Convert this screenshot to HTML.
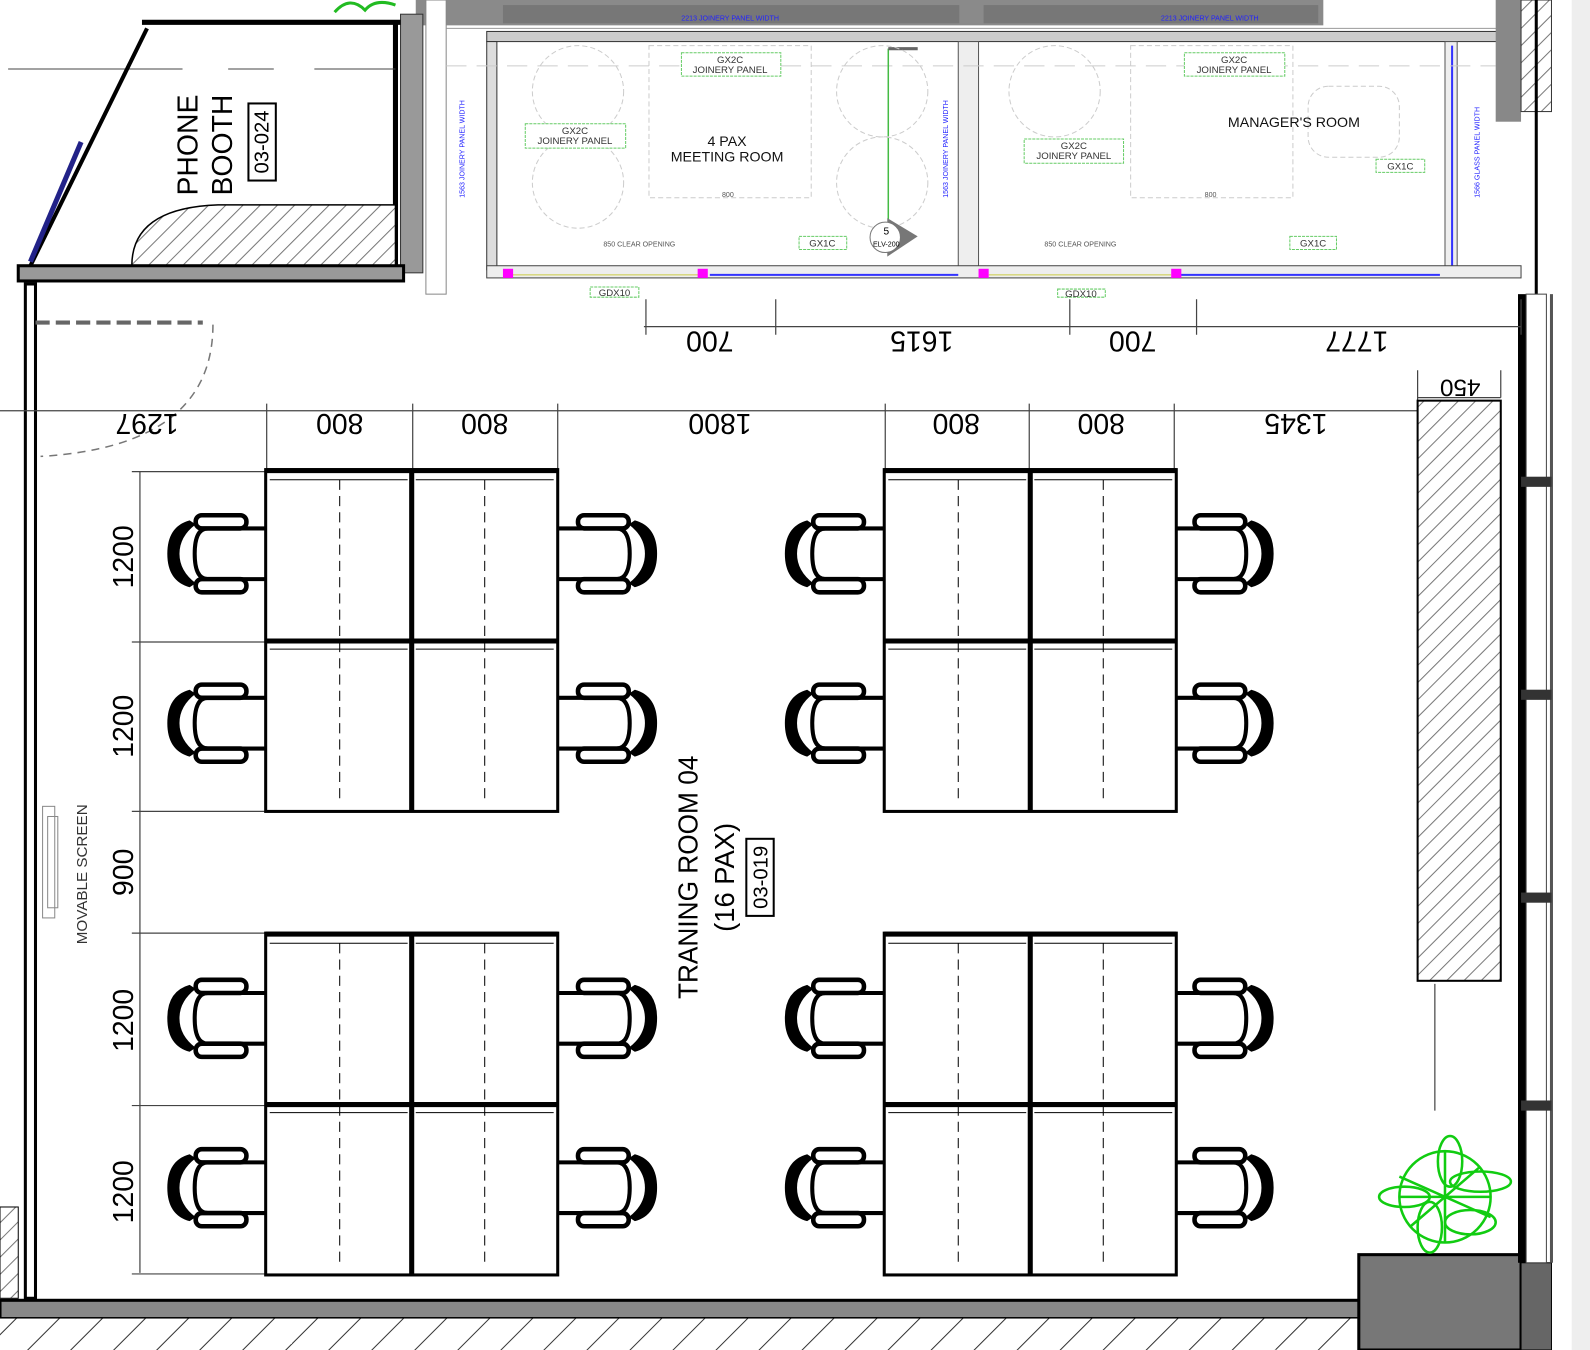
<!DOCTYPE html>
<html><head><meta charset="utf-8"><style>
html,body{margin:0;padding:0;background:#fff;}
svg{display:block;}
text{font-family:"Liberation Sans",sans-serif;}
</style></head><body>
<svg width="1590" height="1350" viewBox="0 0 1568 1331" preserveAspectRatio="none" xmlns="http://www.w3.org/2000/svg">
<defs>
<pattern id="h" width="12" height="12" patternUnits="userSpaceOnUse" patternTransform="rotate(45)">
<rect width="12" height="12" fill="#fff"/><line x1="0" y1="0" x2="0" y2="12" stroke="#777" stroke-width="2"/></pattern>
<pattern id="h2" width="30" height="30" patternUnits="userSpaceOnUse" patternTransform="rotate(45)">
<rect width="30" height="30" fill="#fff"/><line x1="0" y1="0" x2="0" y2="30" stroke="#333" stroke-width="2"/></pattern>
<g id="chair">
<path d="M24 12 Q2 18 2 45 Q2 72 24 78 L30 74 Q14 62 14 45 Q14 28 30 16 Z" fill="#000"/>
<path d="M99 20 H42 Q29 20 29 45 Q29 70 42 70 H99" fill="none" stroke="#000" stroke-width="4"/>
<rect x="30" y="7" width="50" height="13" rx="6" fill="#fff" stroke="#000" stroke-width="4.5"/>
<rect x="30" y="70" width="50" height="13" rx="6" fill="#fff" stroke="#000" stroke-width="4.5"/>
</g>
<g id="tbl">
<rect x="0" y="0" width="288" height="337" fill="#fff" stroke="#000" stroke-width="3"/>
<line x1="0" y1="1" x2="288" y2="1" stroke="#000" stroke-width="5"/>
<line x1="144" y1="0" x2="144" y2="337" stroke="#000" stroke-width="5"/>
<line x1="0" y1="169" x2="288" y2="169" stroke="#000" stroke-width="5"/>
<line x1="73" y1="10" x2="73" y2="330" stroke="#000" stroke-dasharray="10,6"/>
<line x1="216" y1="10" x2="216" y2="330" stroke="#000" stroke-dasharray="10,6"/>
<line x1="4" y1="10" x2="140" y2="10" stroke="#000"/>
<line x1="148" y1="10" x2="284" y2="10" stroke="#000"/>
<line x1="4" y1="177" x2="140" y2="177" stroke="#000"/>
<line x1="148" y1="177" x2="284" y2="177" stroke="#000"/>
</g>
</defs>
<rect width="1568" height="1331" fill="#fff"/>
<rect x="1550" y="0" width="18" height="1331" fill="#eee"/>

<!-- top meeting rooms area -->
<rect x="410" y="0" width="895" height="25" fill="#8a8a8a"/>
<rect x="496" y="5" width="450" height="18" fill="#777"/>
<rect x="970" y="5" width="330" height="18" fill="#777"/>
<text x="720" y="20" font-size="7" fill="#22f" text-anchor="middle">2213 JOINERY PANEL WIDTH</text>
<text x="1193" y="20" font-size="7" fill="#22f" text-anchor="middle">2213 JOINERY PANEL WIDTH</text>
<rect x="395" y="14" width="22" height="255" fill="#999" stroke="#333"/>
<rect x="420" y="0" width="20" height="290" fill="#fff" stroke="#888"/>
<line x1="440" y1="28" x2="1500" y2="28" stroke="#999"/>
<rect x="480" y="31" width="1020" height="10" fill="#ccc" stroke="#333"/>
<rect x="480" y="41" width="10" height="225" fill="#ddd" stroke="#333"/>
<rect x="945" y="41" width="20" height="225" fill="#eee" stroke="#555"/>
<rect x="1425" y="41" width="12" height="225" fill="#eee" stroke="#555"/>
<line x1="1432" y1="45" x2="1432" y2="262" stroke="#33f" stroke-width="2"/>
<rect x="480" y="262" width="1020" height="12" fill="#eee" stroke="#444"/>
<line x1="700" y1="271" x2="945" y2="271" stroke="#33f" stroke-width="2"/>
<line x1="1160" y1="271" x2="1420" y2="271" stroke="#33f" stroke-width="2"/>
<line x1="500" y1="271" x2="690" y2="271" stroke="#cc4" stroke-width="1"/>
<line x1="975" y1="271" x2="1155" y2="271" stroke="#cc4" stroke-width="1"/>
<rect x="496" y="265" width="10" height="9" fill="#f0f"/><rect x="688" y="265" width="10" height="9" fill="#f0f"/>
<rect x="965" y="265" width="10" height="9" fill="#f0f"/><rect x="1155" y="265" width="10" height="9" fill="#f0f"/>
<line x1="440" y1="65" x2="1475" y2="65" stroke="#ccc" stroke-dasharray="20,10"/>
<line x1="876" y1="48" x2="876" y2="225" stroke="#4b4" stroke-width="1.5"/>
<line x1="876" y1="48" x2="905" y2="48" stroke="#666" stroke-width="3"/>
<g fill="none" stroke="#ccc" stroke-dasharray="5,3">
<circle cx="570" cy="90" r="45"/><circle cx="570" cy="180" r="45"/>
<circle cx="870" cy="90" r="45"/><circle cx="870" cy="180" r="45"/>
<circle cx="1040" cy="90" r="45"/>
<rect x="640" y="45" width="160" height="150"/><rect x="1115" y="45" width="160" height="150"/>
<rect x="1290" y="85" width="90" height="70" rx="20"/>
</g>
<g font-size="7" fill="#555">
<text x="595" y="243">850 CLEAR OPENING</text><text x="1030" y="243">850 CLEAR OPENING</text>
<text x="712" y="194">800</text><text x="1188" y="194">800</text>
</g>
<g fill="#fff" stroke="#6c6" stroke-dasharray="3,1">
<rect x="672" y="52" width="98" height="23"/><rect x="518" y="122" width="99" height="24"/>
<rect x="1168" y="52" width="99" height="23"/><rect x="1010" y="137" width="98" height="24"/>
<rect x="788" y="233" width="47" height="13"/><rect x="1272" y="233" width="46" height="13"/>
<rect x="1357" y="157" width="48" height="13"/><rect x="582" y="283" width="48" height="10"/>
<rect x="1043" y="285" width="47" height="8"/>
</g>
<g font-size="9.5" fill="#333" text-anchor="middle">
<text x="720" y="62">GX2C</text><text x="720" y="72">JOINERY PANEL</text>
<text x="567" y="132">GX2C</text><text x="567" y="142">JOINERY PANEL</text>
<text x="1217" y="62">GX2C</text><text x="1217" y="72">JOINERY PANEL</text>
<text x="1059" y="147">GX2C</text><text x="1059" y="157">JOINERY PANEL</text>
<text x="811" y="243">GX1C</text><text x="1295" y="243">GX1C</text><text x="1381" y="167">GX1C</text>
<text x="606" y="292">GDX10</text><text x="1066" y="293">GDX10</text>
</g>
<g font-size="14" fill="#111" text-anchor="middle">
<text x="717" y="144">4 PAX</text><text x="717" y="159">MEETING ROOM</text>
<text x="1276" y="125">MANAGER'S ROOM</text>
</g>
<path d="M875 215 L905 233 L875 253 Z" fill="#777"/><circle cx="873" cy="234" r="15" fill="#fff" stroke="#777"/>
<text x="874" y="231" font-size="10" text-anchor="middle">5</text><text x="874" y="243" font-size="7" text-anchor="middle">ELV-200</text>
<g font-size="7" fill="#22f">
<text transform="translate(458,195) rotate(-90)">1563 JOINERY PANEL WIDTH</text>
<text transform="translate(935,195) rotate(-90)">1563 JOINERY PANEL WIDTH</text>
<text transform="translate(1459,195) rotate(-90)">1566 GLASS PANEL WIDTH</text>
</g>
<rect x="1475" y="0" width="25" height="120" fill="#888"/>
<rect x="1500" y="0" width="30" height="110" fill="url(#h)" stroke="#333"/>
<line x1="1515" y1="0" x2="1515" y2="290" stroke="#000" stroke-width="3"/>

<!-- phone booth -->
<line x1="140" y1="22" x2="395" y2="22" stroke="#000" stroke-width="5"/>
<line x1="390" y1="20" x2="390" y2="265" stroke="#000" stroke-width="5"/>
<line x1="8" y1="68" x2="180" y2="68" stroke="#444"/><line x1="225" y1="68" x2="270" y2="68" stroke="#444"/><line x1="310" y1="68" x2="390" y2="68" stroke="#444"/>
<path d="M130 262 Q130 205 215 202 L390 202 L390 262 Z" fill="url(#h)" stroke="#000" stroke-width="1.5"/>
<line x1="145" y1="28" x2="30" y2="262" stroke="#000" stroke-width="4"/>
<line x1="80" y1="140" x2="30" y2="258" stroke="#228" stroke-width="5"/>
<rect x="18" y="262" width="380" height="15" fill="#999" stroke="#000" stroke-width="3"/>
<g font-size="28" fill="#000" text-anchor="middle">
<text transform="translate(195,143) rotate(-90)">PHONE</text>
<text transform="translate(229,143) rotate(-90)">BOOTH</text>
</g>
<rect x="245" y="102" width="27" height="76" fill="#fff" stroke="#000" stroke-width="2"/>
<text transform="translate(265,140) rotate(-90)" font-size="20" text-anchor="middle">03-024</text>
<rect x="325" y="0" width="65" height="18" fill="#fff"/>
<path d="M330 12 Q345 -5 360 10 Q370 -2 390 5" fill="none" stroke="#2b2" stroke-width="3"/>

<!-- left wall -->
<rect x="25" y="280" width="10" height="1000" fill="#fff" stroke="#000" stroke-width="3"/>
<line x1="35" y1="318" x2="200" y2="318" stroke="#666" stroke-width="4" stroke-dasharray="14,6"/>
<path d="M210 320 Q210 440 40 450" fill="none" stroke="#777" stroke-width="1.5" stroke-dasharray="8,6"/>
<rect x="0" y="1190" width="18" height="90" fill="url(#h)" stroke="#000"/>
<rect x="0" y="1282" width="1345" height="18" fill="#888" stroke="#000" stroke-width="3"/>
<rect x="0" y="1300" width="1345" height="31" fill="url(#h2)"/>
<rect x="1340" y="1237" width="160" height="94" fill="#777" stroke="#000" stroke-width="3"/>
<rect x="1500" y="1245" width="30" height="86" fill="#666" stroke="#000"/>
<rect x="1497" y="290" width="8" height="955" fill="#000"/>
<rect x="1505" y="290" width="20" height="955" fill="#fff" stroke="#444"/>
<line x1="1530" y1="290" x2="1530" y2="1245" stroke="#555" stroke-width="3"/>
<g fill="#333"><rect x="1500" y="470" width="30" height="10"/><rect x="1500" y="680" width="30" height="10"/><rect x="1500" y="880" width="30" height="10"/><rect x="1500" y="1085" width="30" height="10"/></g>

<!-- dimensions -->
<g stroke="#444" stroke-width="1.2" fill="none">
<line x1="635" y1="322" x2="1500" y2="322"/>
<line x1="0" y1="405" x2="1398" y2="405"/>
<line x1="1398" y1="392" x2="1480" y2="392"/>
<line x1="138" y1="465" x2="138" y2="1255"/>
<path d="M637 295V330M765 295V330M1055 295V330M1180 295V330M1500 295V330"/>
<path d="M263 398V465M407 398V465M550 398V465M873 398V465M1015 398V465M1158 398V465"/>
<path d="M130 465H262M130 633H262M130 800H262M130 920H262M130 1090H262M130 1256H262"/>
<path d="M1398 365V405M1480 365V392M1415 970V1095"/>
</g>
<g font-size="28" fill="#000" text-anchor="middle">
<g transform="rotate(180 700 337)"><text x="700" y="347">700</text></g>
<g transform="rotate(180 909 337)"><text x="909" y="347">1615</text></g>
<g transform="rotate(180 1117 337)"><text x="1117" y="347">700</text></g>
<g transform="rotate(180 1338 337)"><text x="1338" y="347">1777</text></g>
<g transform="rotate(180 145 418)"><text x="145" y="428">1297</text></g>
<g transform="rotate(180 335 418)"><text x="335" y="428">800</text></g>
<g transform="rotate(180 478 418)"><text x="478" y="428">800</text></g>
<g transform="rotate(180 710 418)"><text x="710" y="428">1800</text></g>
<g transform="rotate(180 943 418)"><text x="943" y="428">800</text></g>
<g transform="rotate(180 1086 418)"><text x="1086" y="428">800</text></g>
<g transform="rotate(180 1278 418)"><text x="1278" y="428">1345</text></g>
<g transform="rotate(180 1440 383)"><text x="1440" y="392" font-size="24">450</text></g>
<text transform="translate(131,549) rotate(-90)">1200</text>
<text transform="translate(131,716) rotate(-90)">1200</text>
<text transform="translate(131,860) rotate(-90)">900</text>
<text transform="translate(131,1006) rotate(-90)">1200</text>
<text transform="translate(131,1175) rotate(-90)">1200</text>
</g>

<rect x="1398" y="395" width="82" height="572" fill="url(#h)" stroke="#000" stroke-width="2"/>

<use href="#tbl" x="262" y="463"/><use href="#tbl" x="872" y="463"/>
<use href="#tbl" x="262" y="920"/><use href="#tbl" x="872" y="920"/>
<g>
<use href="#chair" x="163" y="501"/><use href="#chair" x="163" y="668"/><use href="#chair" x="163" y="959"/><use href="#chair" x="163" y="1126"/>
<use href="#chair" x="772" y="501"/><use href="#chair" x="772" y="668"/><use href="#chair" x="772" y="959"/><use href="#chair" x="772" y="1126"/>
<g transform="translate(1200 0) scale(-1 1)">
<use href="#chair" x="550" y="501"/><use href="#chair" x="550" y="668"/><use href="#chair" x="550" y="959"/><use href="#chair" x="550" y="1126"/>
</g>
<g transform="translate(2418 0) scale(-1 1)">
<use href="#chair" x="1160" y="501"/><use href="#chair" x="1160" y="668"/><use href="#chair" x="1160" y="959"/><use href="#chair" x="1160" y="1126"/>
</g>
</g>

<g font-size="27" fill="#000" text-anchor="middle">
<text transform="translate(688,865) rotate(-90)" textLength="240" lengthAdjust="spacingAndGlyphs">TRANING ROOM 04</text>
<text transform="translate(724,865) rotate(-90)">(16 PAX)</text>
</g>
<rect x="736" y="827" width="27" height="76" fill="#fff" stroke="#000" stroke-width="2"/>
<text transform="translate(757,865) rotate(-90)" font-size="20" text-anchor="middle">03-019</text>
<rect x="42" y="795" width="12" height="110" fill="none" stroke="#888"/>
<rect x="47" y="805" width="10" height="90" fill="none" stroke="#888"/>
<text transform="translate(86,862) rotate(-90)" font-size="15" fill="#333" text-anchor="middle">MOVABLE SCREEN</text>

<g fill="none" stroke="#1c1" stroke-width="2.5">
<circle cx="1425" cy="1180" r="45"/>
<ellipse cx="1430" cy="1145" rx="12" ry="25"/>
<ellipse cx="1460" cy="1165" rx="30" ry="10"/>
<ellipse cx="1385" cy="1180" rx="25" ry="10"/>
<ellipse cx="1410" cy="1210" rx="12" ry="25"/>
<ellipse cx="1450" cy="1205" rx="25" ry="12"/>
<path d="M1380 1160 L1470 1200 M1390 1210 L1460 1150 M1425 1135 L1425 1225 M1380 1180 L1470 1180"/>
</g>
</svg>
</body></html>
